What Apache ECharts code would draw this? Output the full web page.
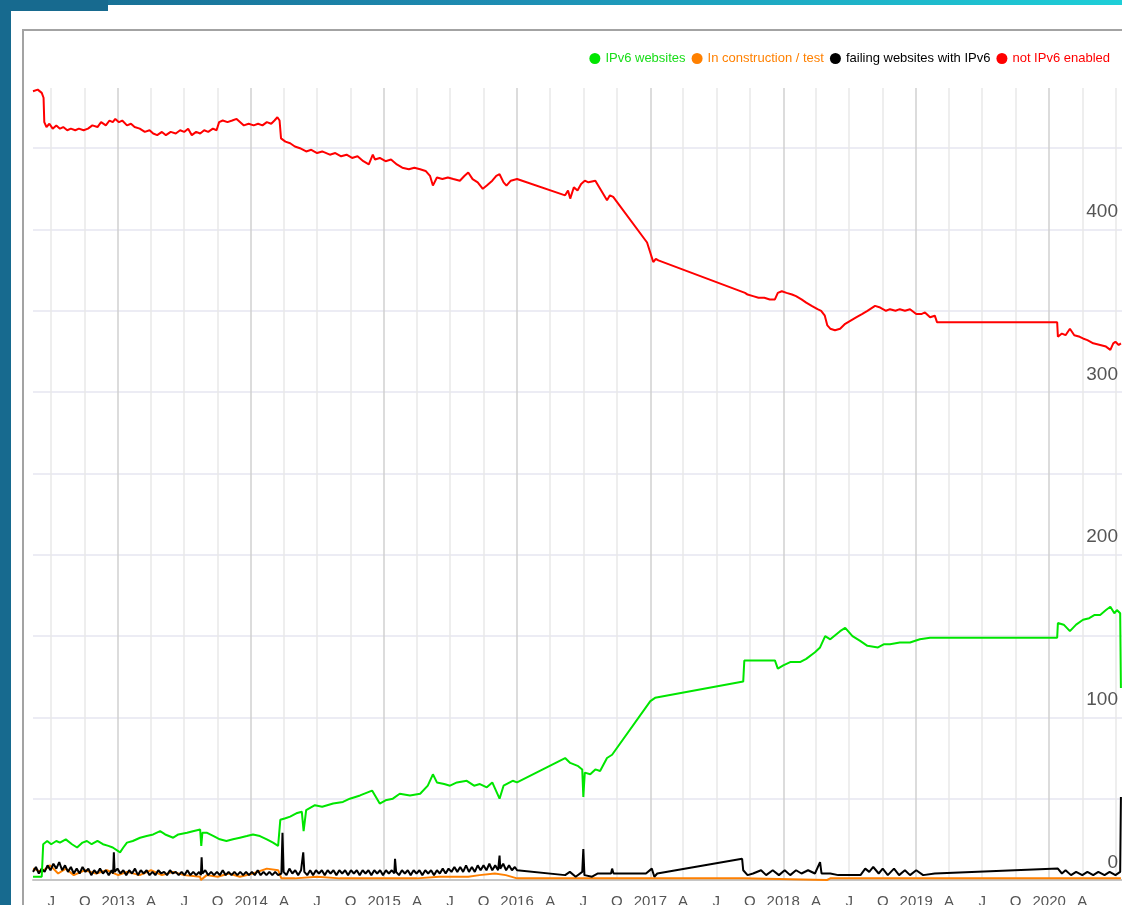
<!DOCTYPE html>
<html>
<head>
<meta charset="utf-8">
<title>IPv6 websites</title>
<script src="https://cdn.jsdelivr.net/npm/echarts@6/dist/echarts.min.js"></script>
<style>
  html, body { margin: 0; padding: 0; background: #fff; overflow: hidden; }
  #band { position: absolute; left: 0; top: 0; width: 1122px; height: 5px;
          background: linear-gradient(90deg, #176a8f 0%, #1e8db3 45%, #1ecfd8 100%); }
  #logo { position: absolute; left: 0; top: 0; width: 108px; height: 11px; background: #176a8f; }
  #side { position: absolute; left: 0; top: 0; width: 11px; height: 905px; background: #176a8f; }
  #panel { position: absolute; left: 22px; top: 29px; width: 1110px; height: 900px;
           border-left: 2px solid #a3a3a3; border-top: 2px solid #a3a3a3; }
  #chart { position: absolute; left: 0; top: 0; width: 1122px; height: 905px; }
</style>
</head>
<body>
<div id="band"></div>
<div id="logo"></div>
<div id="side"></div>
<div id="panel"></div>
<div id="chart"></div>
<script>
// legend / series names
const seriesNames = ['IPv6 websites', 'In construction / test', 'failing websites with IPv6', 'not IPv6 enabled'];
const seriesColors = ['#00e600', '#ff8000', '#000000', '#ff0000'];

// quarter ticks on the x axis
const tickYears = [2012, 2013, 2014, 2015, 2016, 2017, 2018, 2019, 2020];
const tickMonths = ['01', '04', '07', '10'];
const monthLetters = { 3: 'A', 6: 'J', 9: 'O' };
const xMin = '2012-05-12';
const xMax = '2020-07-19';
const lastLabel = '2020-04-01';

// not IPv6 enabled
const notEnabled = [
  ['2012-05-12',485],['2012-05-25',486],['2012-06-05',484],['2012-06-10',481],['2012-06-12',466],
  ['2012-06-18',463],['2012-06-26',465],['2012-07-05',462],['2012-07-15',464],['2012-07-25',462],
  ['2012-08-03',463],['2012-08-14',461],['2012-08-24',462],['2012-09-05',461],['2012-09-15',462],
  ['2012-09-28',461],['2012-10-10',462],['2012-10-22',464],['2012-11-05',463],['2012-11-15',466],
  ['2012-11-28',464],['2012-12-08',467],['2012-12-17',466],['2012-12-24',468],['2013-01-03',466],
  ['2013-01-12',467],['2013-01-25',464],['2013-02-05',465],['2013-02-15',463],['2013-03-01',462],
  ['2013-03-15',460],['2013-03-28',461],['2013-04-07',459],['2013-04-18',458],['2013-05-01',460],
  ['2013-05-12',458],['2013-05-25',460],['2013-06-08',459],['2013-06-20',461],['2013-07-01',460],
  ['2013-07-12',462],['2013-07-22',458],['2013-08-03',460],['2013-08-14',459],['2013-08-25',461],
  ['2013-09-05',460],['2013-09-18',462],['2013-09-28',461],['2013-10-05',466],['2013-10-15',467],
  ['2013-10-28',466],['2013-11-10',467],['2013-11-22',468],['2013-12-02',466],['2013-12-12',464],
  ['2013-12-25',465],['2014-01-08',464],['2014-01-20',465],['2014-02-01',464],['2014-02-13',466],
  ['2014-02-25',465],['2014-03-06',467],['2014-03-14',469],['2014-03-20',467],['2014-03-24',456],
  ['2014-04-05',454],['2014-04-18',453],['2014-05-01',451],['2014-05-15',450],['2014-06-01',448],
  ['2014-06-15',449],['2014-07-01',447],['2014-07-15',448],['2014-08-05',446],['2014-08-20',447],
  ['2014-09-05',445],['2014-09-20',446],['2014-10-05',444],['2014-10-20',445],['2014-11-05',442],
  ['2014-11-20',440],['2014-12-01',446],['2014-12-07',443],['2014-12-20',444],['2015-01-05',442],
  ['2015-01-20',443],['2015-02-05',440],['2015-02-20',438],['2015-03-10',437],['2015-03-25',438],
  ['2015-04-10',437],['2015-04-25',436],['2015-05-07',433],['2015-05-15',427],['2015-05-26',432],
  ['2015-06-10',431],['2015-06-25',432],['2015-07-10',431],['2015-07-28',430],['2015-08-10',433],
  ['2015-08-20',435],['2015-09-01',431],['2015-09-15',429],['2015-09-29',425],['2015-10-10',427],
  ['2015-10-25',430],['2015-11-05',433],['2015-11-14',434],['2015-11-25',429],['2015-12-03',427],
  ['2015-12-15',430],['2016-01-01',431],['2016-05-12',421],['2016-05-20',424],['2016-05-26',419],
  ['2016-06-05',426],['2016-06-15',424],['2016-06-25',428],['2016-07-05',430],['2016-07-15',429],
  ['2016-08-03',430],['2016-09-04',418],['2016-09-12',421],['2016-09-21',420],['2016-12-23',392],
  ['2017-01-09',380],['2017-01-16',382],['2017-01-23',381],['2017-09-18',361],['2017-09-25',360],
  ['2017-10-10',359],['2017-10-25',358],['2017-11-10',358],['2017-11-25',357],['2017-12-09',357],
  ['2017-12-17',361],['2017-12-28',362],['2018-01-10',361],['2018-01-25',360],['2018-02-05',359],
  ['2018-02-20',357],['2018-03-05',355],['2018-03-20',353],['2018-04-05',351],['2018-04-15',350],
  ['2018-04-25',347],['2018-05-02',341],['2018-05-10',339],['2018-05-23',338],['2018-06-06',339],
  ['2018-06-20',342],['2018-07-05',344],['2018-07-20',346],['2018-08-05',348],['2018-08-20',350],
  ['2018-09-10',353],['2018-09-24',352],['2018-10-10',350],['2018-10-21',351],['2018-11-05',350],
  ['2018-11-17',351],['2018-12-01',350],['2018-12-15',351],['2019-01-01',348],['2019-01-15',348],
  ['2019-01-25',349],['2019-02-08',346],['2019-02-21',347],['2019-02-27',343],['2020-01-23',343],
  ['2020-01-25',334],['2020-02-05',336],['2020-02-15',335],['2020-02-27',339],['2020-03-10',335],
  ['2020-03-25',334],['2020-04-03',333],['2020-04-15',332],['2020-05-01',330],['2020-05-20',329],
  ['2020-06-05',328],['2020-06-17',326],['2020-06-25',330],['2020-07-01',331],['2020-07-10',329],
  ['2020-07-16',330]
];

// IPv6 websites
const ipv6Sites = [
  ['2012-05-12',2],['2012-06-05',2],['2012-06-09',22],['2012-06-20',24],['2012-07-01',22],
  ['2012-07-15',24],['2012-07-25',23],['2012-08-10',25],['2012-08-27',22],['2012-09-10',20],
  ['2012-09-25',23],['2012-10-07',24],['2012-10-20',22],['2012-11-05',24],['2012-11-20',22],
  ['2012-12-05',21],['2012-12-17',20],['2013-01-06',17],['2013-01-15',20],['2013-01-25',23],
  ['2013-02-10',24],['2013-03-02',26],['2013-03-20',27],['2013-04-07',28],['2013-04-26',30],
  ['2013-05-10',28],['2013-06-01',26],['2013-06-15',28],['2013-07-09',29],['2013-07-25',30],
  ['2013-08-14',31],['2013-08-17',21],['2013-08-20',29],['2013-09-02',29],['2013-09-20',27],
  ['2013-10-07',25],['2013-10-25',24],['2013-11-12',25],['2013-12-01',26],['2013-12-20',27],
  ['2014-01-06',28],['2014-01-25',27],['2014-02-13',25],['2014-03-02',23],['2014-03-16',21],
  ['2014-03-22',37],['2014-04-05',38],['2014-04-18',39],['2014-05-05',41],['2014-05-20',42],
  ['2014-05-25',30],['2014-06-01',43],['2014-06-25',46],['2014-07-15',45],['2014-08-14',47],
  ['2014-09-10',48],['2014-09-29',50],['2014-10-27',52],['2014-11-29',55],['2014-12-20',47],
  ['2015-01-05',49],['2015-01-25',50],['2015-02-13',53],['2015-03-13',52],['2015-04-10',53],
  ['2015-05-01',58],['2015-05-15',65],['2015-05-26',60],['2015-06-15',59],['2015-07-01',58],
  ['2015-07-20',60],['2015-08-16',61],['2015-09-05',58],['2015-09-21',59],['2015-10-10',57],
  ['2015-10-25',60],['2015-11-14',50],['2015-11-25',58],['2015-12-20',61],['2016-01-01',60],
  ['2016-05-12',75],['2016-05-26',72],['2016-06-17',70],['2016-06-28',68],['2016-07-01',51],
  ['2016-07-05',66],['2016-07-20',65],['2016-08-03',68],['2016-08-16',67],['2016-09-04',75],
  ['2016-09-18',77],['2017-01-01',110],['2017-01-14',112],['2017-09-13',122],['2017-09-16',135],
  ['2017-12-09',135],['2017-12-17',130],['2018-01-01',132],['2018-01-20',134],['2018-02-16',134],
  ['2018-03-05',136],['2018-03-29',140],['2018-04-12',143],['2018-04-26',150],['2018-05-10',148],
  ['2018-06-06',153],['2018-06-20',155],['2018-07-10',150],['2018-07-31',147],['2018-08-20',144],
  ['2018-09-18',143],['2018-10-05',145],['2018-10-21',145],['2018-11-17',146],['2018-12-15',146],
  ['2019-01-11',148],['2019-02-08',149],['2019-02-27',149],['2020-01-23',149],['2020-01-25',158],
  ['2020-02-10',157],['2020-02-27',153],['2020-03-15',157],['2020-04-03',160],['2020-04-20',161],
  ['2020-05-05',163],['2020-05-20',163],['2020-06-05',166],['2020-06-17',168],['2020-06-28',164],
  ['2020-07-05',166],['2020-07-14',164],['2020-07-16',118]
];

// failing websites with IPv6
const failingSites = [
  ['2012-05-12',5],['2012-05-20',8],['2012-05-28',4],['2012-06-05',7],['2012-06-13',5],
  ['2012-06-21',9],['2012-06-29',6],['2012-07-07',10],['2012-07-15',7],['2012-07-23',11],
  ['2012-07-31',6],['2012-08-08',9],['2012-08-16',5],['2012-08-24',8],['2012-09-01',4],
  ['2012-09-09',7],['2012-09-17',4],['2012-09-25',8],['2012-10-03',5],['2012-10-11',7],
  ['2012-10-19',3],['2012-10-27',6],['2012-11-04',4],['2012-11-12',7],['2012-11-20',4],
  ['2012-11-28',6],['2012-12-06',3],['2012-12-14',6],['2012-12-18',4],['2012-12-20',17],
  ['2012-12-22',5],['2012-12-30',7],['2013-01-07',4],['2013-01-15',6],['2013-01-23',3],
  ['2013-01-31',6],['2013-02-08',4],['2013-02-16',7],['2013-02-24',3],['2013-03-04',6],
  ['2013-03-12',4],['2013-03-20',6],['2013-03-28',3],['2013-04-05',5],['2013-04-13',3],
  ['2013-04-21',6],['2013-04-29',4],['2013-05-07',5],['2013-05-15',3],['2013-05-23',6],
  ['2013-05-31',4],['2013-06-08',5],['2013-06-16',3],['2013-06-24',5],['2013-07-02',3],
  ['2013-07-10',6],['2013-07-18',3],['2013-07-26',5],['2013-08-03',3],['2013-08-11',5],
  ['2013-08-16',3],['2013-08-18',14],['2013-08-20',4],['2013-08-28',6],['2013-09-05',3],
  ['2013-09-13',5],['2013-09-21',3],['2013-09-29',5],['2013-10-07',3],['2013-10-15',6],
  ['2013-10-23',3],['2013-10-31',5],['2013-11-08',3],['2013-11-16',5],['2013-11-24',3],
  ['2013-12-02',5],['2013-12-10',3],['2013-12-18',5],['2013-12-26',3],['2014-01-03',5],
  ['2014-01-11',3],['2014-01-19',6],['2014-01-27',3],['2014-02-04',5],['2014-02-12',3],
  ['2014-02-20',5],['2014-02-28',3],['2014-03-08',5],['2014-03-16',3],['2014-03-25',4],
  ['2014-03-28',29],['2014-03-31',5],['2014-04-08',3],['2014-04-16',7],['2014-04-24',4],
  ['2014-05-02',6],['2014-05-10',3],['2014-05-18',6],['2014-05-24',17],['2014-05-27',5],
  ['2014-06-04',3],['2014-06-12',6],['2014-06-20',3],['2014-06-28',6],['2014-07-06',4],
  ['2014-07-14',6],['2014-07-22',3],['2014-07-30',6],['2014-08-07',4],['2014-08-15',6],
  ['2014-08-23',3],['2014-08-31',6],['2014-09-08',4],['2014-09-16',6],['2014-09-24',3],
  ['2014-10-02',6],['2014-10-10',4],['2014-10-18',6],['2014-10-26',3],['2014-11-03',6],
  ['2014-11-11',4],['2014-11-19',6],['2014-11-27',3],['2014-12-05',6],['2014-12-13',4],
  ['2014-12-21',6],['2014-12-29',3],['2015-01-06',6],['2015-01-14',4],['2015-01-22',6],
  ['2015-01-29',4],['2015-01-31',13],['2015-02-03',5],['2015-02-11',3],['2015-02-19',6],
  ['2015-02-27',4],['2015-03-07',6],['2015-03-15',3],['2015-03-23',6],['2015-03-31',4],
  ['2015-04-08',6],['2015-04-16',3],['2015-04-24',6],['2015-05-02',4],['2015-05-10',6],
  ['2015-05-18',3],['2015-05-26',6],['2015-06-03',4],['2015-06-11',7],['2015-06-19',4],
  ['2015-06-27',7],['2015-07-05',5],['2015-07-13',8],['2015-07-21',5],['2015-07-29',8],
  ['2015-08-06',5],['2015-08-14',9],['2015-08-22',5],['2015-08-30',8],['2015-09-07',5],
  ['2015-09-15',9],['2015-09-23',6],['2015-10-01',9],['2015-10-09',6],['2015-10-17',10],
  ['2015-10-25',6],['2015-11-02',9],['2015-11-10',6],['2015-11-14',15],['2015-11-16',7],
  ['2015-11-24',10],['2015-12-02',6],['2015-12-10',9],['2015-12-18',6],['2015-12-26',8],
  ['2016-01-01',6],['2016-05-12',3],['2016-05-25',5],['2016-06-10',2],['2016-06-28',5],
  ['2016-07-01',19],['2016-07-04',3],['2016-07-25',2],['2016-08-10',4],['2016-09-15',4],
  ['2016-09-18',7],['2016-09-22',4],['2016-12-20',4],['2017-01-05',7],['2017-01-12',2],
  ['2017-01-20',4],['2017-09-10',13],['2017-09-13',6],['2017-09-25',3],['2017-10-10',4],
  ['2017-11-01',6],['2017-11-15',3],['2017-12-03',6],['2017-12-20',3],['2018-01-05',6],
  ['2018-01-20',3],['2018-02-05',6],['2018-02-20',4],['2018-03-10',6],['2018-03-29',4],
  ['2018-04-12',11],['2018-04-16',4],['2018-05-10',4],['2018-06-01',3],['2018-07-01',3],
  ['2018-08-01',3],['2018-08-14',7],['2018-08-25',5],['2018-09-05',8],['2018-09-20',4],
  ['2018-10-01',7],['2018-10-15',3],['2018-11-01',7],['2018-11-15',3],['2018-12-01',6],
  ['2018-12-15',3],['2019-01-01',6],['2019-01-20',3],['2019-02-21',4],['2020-01-25',7],
  ['2020-02-05',4],['2020-02-15',6],['2020-03-01',3],['2020-03-15',5],['2020-04-01',3],
  ['2020-04-15',5],['2020-05-01',3],['2020-05-15',5],['2020-06-01',3],['2020-06-15',5],
  ['2020-07-01',3],['2020-07-14',5],['2020-07-16',51]
];

// in construction / test
const inConstruction = [
  ['2012-05-12',7],['2012-06-05',5],['2012-06-28',9],['2012-07-20',4],['2012-08-10',7],
  ['2012-09-01',3],['2012-10-01',6],['2012-11-01',4],['2012-12-01',6],['2013-01-01',3],
  ['2013-01-25',5],['2013-03-01',3],['2013-04-01',6],['2013-05-01',3],['2013-06-01',5],
  ['2013-07-01',3],['2013-08-14',2],['2013-08-16',0],['2013-09-01',3],['2013-10-01',2],
  ['2013-11-01',4],['2013-12-01',2],['2014-01-06',4],['2014-02-13',7],['2014-03-16',6],
  ['2014-03-25',1],['2014-05-01',1],['2014-07-01',2],['2014-09-01',1],['2014-11-01',1],
  ['2015-01-01',1],['2015-04-01',1],['2015-06-01',2],['2015-08-20',2],['2015-09-20',3],
  ['2015-11-01',4],['2015-12-01',3],['2016-01-01',1],['2017-09-13',1],['2017-09-18',0],
  ['2018-05-01',0],['2018-05-10',1],['2020-07-16',1]
];

function ts(s) { return Date.parse(s + 'T00:00:00Z'); }
function toPoints(arr) { return arr.map(function (p) { return [ts(p[0]), p[1]]; }); }

const quarterTicks = [];
tickYears.forEach(function (y) {
  tickMonths.forEach(function (m) {
    const d = y + '-' + m + '-01';
    if (d > xMin && d < xMax) quarterTicks.push(ts(d));
  });
});
const labelTicks = quarterTicks.filter(function (t) { return t <= ts(lastLabel); });

const font = '"Liberation Sans", Arial, sans-serif';

const chart = echarts.init(document.getElementById('chart'));

function lineSeries(i, data, z) {
  return {
    name: seriesNames[i],
    type: 'line',
    data: toPoints(data),
    showSymbol: false,
    symbol: 'none',
    z: z,
    lineStyle: { color: seriesColors[i], width: 2 },
    itemStyle: { color: seriesColors[i] }
  };
}

const option = {
  animation: false,
  legend: {
    right: 7,
    top: 47,
    icon: 'circle',
    itemWidth: 11,
    itemHeight: 11,
    itemGap: 6,
    textStyle: { fontFamily: font, fontSize: 13 },
    data: seriesNames.map(function (n, i) {
      return { name: n, textStyle: { color: i === 0 ? '#19dd19' : seriesColors[i] } };
    })
  },
  grid: { left: 33, right: 0, top: 88, bottom: 25, outerBoundsMode: 'none', containLabel: false },
  xAxis: {
    type: 'value',
    min: ts(xMin),
    max: ts(xMax),
    axisLine: { lineStyle: { color: '#c6c6c6', width: 2 } },
    axisTick: { show: false, customValues: quarterTicks },
    axisLabel: {
      customValues: labelTicks,
      color: '#555',
      fontFamily: font,
      fontSize: 15,
      margin: 14,
      formatter: function (value) {
        const d = new Date(value);
        const m = d.getUTCMonth();
        return m === 0 ? String(d.getUTCFullYear()) : monthLetters[m];
      }
    },
    splitLine: {
      show: true,
      lineStyle: { color: ['#e8e8e8', '#e8e8e8', '#d0d0d0', '#e8e8e8'], width: 1.5 }
    }
  },
  yAxis: {
    type: 'value',
    position: 'right',
    min: 0,
    max: 487,
    interval: 50,
    axisLine: { show: false },
    axisTick: { show: false },
    axisLabel: {
      inside: true,
      margin: 4,
      verticalAlign: 'bottom',
      padding: [0, 0, 8, 0],
      color: '#555',
      fontFamily: font,
      fontSize: 19,
      formatter: function (v) { return v % 100 === 0 ? String(v) : ''; }
    },
    splitLine: { showMaxLine: false, lineStyle: { color: '#e6e6f0', width: 1.5 } }
  },
  series: [
    lineSeries(1, inConstruction, 2),
    lineSeries(2, failingSites, 3),
    lineSeries(0, ipv6Sites, 4),
    lineSeries(3, notEnabled, 5)
  ]
};

chart.setOption(option);
</script>
</body>
</html>
